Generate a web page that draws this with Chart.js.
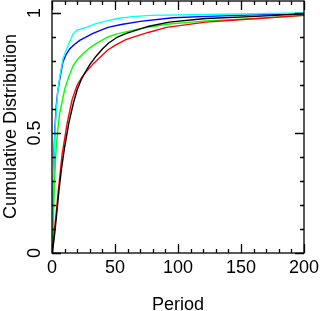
<!DOCTYPE html>
<html>
<head>
<meta charset="utf-8">
<script src="https://cdn.jsdelivr.net/npm/chart.js@4/dist/chart.umd.min.js"></script>
<style>
  html, body { margin: 0; padding: 0; background: #fff; }
  #wrap { width: 320px; height: 311px; }
</style>
</head>
<body>
<div id="wrap"><canvas id="c"></canvas></div>
<script>
/* ---------- Data ---------- */
const yTicks = [0, 0.5, 1];
const yTickLabels = ["0", "0.5", "1"];

const periodBlack = [0, 1.5, 3.5, 5.5, 7.5, 10, 13.5, 17, 20, 23, 26, 30, 35, 40, 45, 52, 59, 77, 93, 122, 162, 200];
const cdfBlack    = [0, 0.05, 0.15, 0.26, 0.35, 0.44, 0.545, 0.625, 0.68, 0.72, 0.75, 0.785, 0.82, 0.85, 0.875, 0.9, 0.915, 0.945, 0.962, 0.977, 0.986, 0.997];

const periodRed = [0, 1, 3, 5, 8, 12, 16, 20, 24, 28, 33, 38, 44, 50, 59, 77, 91, 122, 149, 200];
const cdfRed    = [0, 0.05, 0.15, 0.26, 0.41, 0.54, 0.64, 0.7, 0.735, 0.76, 0.79, 0.815, 0.845, 0.865, 0.89, 0.92, 0.94, 0.962, 0.972, 0.99];

const periodGreen = [0, 1, 2, 3.2, 4.5, 6, 8, 10, 13, 16.7, 20, 24.6, 30, 35, 44.4, 51, 70, 91, 122, 162, 200];
const cdfGreen    = [0, 0.12, 0.3, 0.43, 0.51, 0.58, 0.63, 0.68, 0.73, 0.78, 0.805, 0.83, 0.855, 0.872, 0.9, 0.912, 0.935, 0.953, 0.967, 0.977, 0.99];

const periodBlue = [0, 0.6, 1.2, 1.7, 2.4, 3.5, 4.5, 6, 8.7, 11, 14, 18, 22, 32.5, 44.4, 55, 70, 96, 123, 160, 200];
const cdfBlue    = [0, 0.15, 0.3, 0.43, 0.53, 0.62, 0.67, 0.72, 0.796, 0.825, 0.85, 0.87, 0.886, 0.915, 0.94, 0.952, 0.965, 0.98, 0.986, 0.992, 0.997];

const periodCyan = [0, 0.5, 1, 1.8, 2.5, 3.5, 4.5, 6, 8.7, 12.7, 16.7, 19.4, 27.3, 35, 44.4, 52, 64, 78, 123, 200];
const cdfCyan    = [0, 0.15, 0.28, 0.42, 0.52, 0.6, 0.67, 0.73, 0.81, 0.865, 0.912, 0.928, 0.94, 0.956, 0.968, 0.977, 0.985, 0.99, 0.994, 1.0];

const pts = (xs, ys) => xs.map((x, i) => ({ x, y: ys[i] }));
const line = (xs, ys, color) => ({
  data: pts(xs, ys), borderColor: color, borderWidth: 1.4,
  pointRadius: 0, tension: 0, fill: false
});

const FONT = "Liberation Sans, Arial, sans-serif";

/* ---------- Frame, inward ticks, y labels ---------- */
const frame = {
  id: "frame",
  afterDraw(chart) {
    const { ctx, chartArea: a, scales: { x, y } } = chart;
    ctx.save();
    ctx.strokeStyle = "#000";
    ctx.lineWidth = 1.3;
    ctx.strokeRect(a.left, a.top, a.right - a.left, a.bottom - a.top);

    ctx.beginPath();
    for (let v = 0; v <= 200; v += 10) {
      const px = Math.round(x.getPixelForValue(v)) + 0.5;
      const len = v % 50 === 0 ? 9 : 4;
      ctx.moveTo(px, a.bottom); ctx.lineTo(px, a.bottom - len);
      ctx.moveTo(px, a.top); ctx.lineTo(px, a.top + len);
    }
    for (let i = 0; i <= 10; i++) {
      const v = i / 10;
      const py = Math.round(y.getPixelForValue(v)) + 0.5;
      const len = i % 5 === 0 ? 9 : 4;
      ctx.moveTo(a.left, py); ctx.lineTo(a.left + len, py);
      ctx.moveTo(a.right, py); ctx.lineTo(a.right - len, py);
    }
    ctx.stroke();

    ctx.fillStyle = "#000";
    ctx.font = "18px " + FONT;
    ctx.textAlign = "center";
    ctx.textBaseline = "middle";
    yTicks.forEach((v, i) => {
      ctx.save();
      ctx.translate(35, y.getPixelForValue(v));
      ctx.rotate(-Math.PI / 2);
      ctx.fillText(yTickLabels[i], 0, 0);
      ctx.restore();
    });
    ctx.save();
    ctx.translate(11, (a.top + a.bottom) / 2 - 0.5);
    ctx.rotate(-Math.PI / 2);
    ctx.fillText("Cumulative Distribution", 0, 0);
    ctx.restore();
    ctx.restore();
  }
};

new Chart(document.getElementById("c"), {
  type: "line",
  data: {
    datasets: [
      line(periodBlack, cdfBlack, "#000000"),
      line(periodRed, cdfRed, "#ff0000"),
      line(periodGreen, cdfGreen, "#00ff00"),
      line(periodCyan, cdfCyan, "#00ffff"),
      line(periodBlue, cdfBlue, "#0000ff")
    ]
  },
  options: {
    responsive: true,
    maintainAspectRatio: false,
    animation: false,
    layout: { padding: { left: 52, right: 16, top: 1, bottom: 0 } },
    plugins: { legend: { display: false }, tooltip: { enabled: false } },
    scales: {
      x: {
        type: "linear", min: 0, max: 200,
        grid: { display: false, drawTicks: false },
        border: { display: false },
        afterFit: (s) => { s.height = 58; s.paddingRight = 0; s.paddingLeft = 0; },
        ticks: { stepSize: 50, padding: 6, color: "#000", maxRotation: 0,
                 font: { family: FONT, size: 18, lineHeight: 1 } },
        title: { display: true, text: "Period", color: "#000",
                 font: { family: FONT, size: 18, lineHeight: 0.67 },
                 padding: { top: 0, bottom: 0 } }
      },
      y: {
        display: false, min: 0, max: 1.05
      }
    }
  },
  plugins: [frame]
});
</script>
</body>
</html>
